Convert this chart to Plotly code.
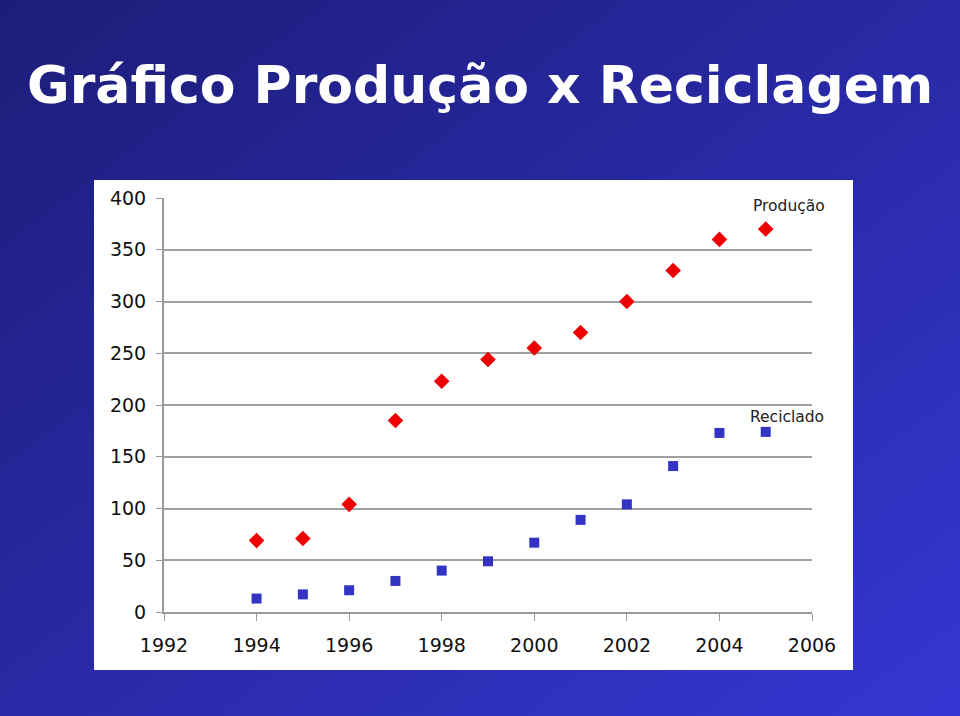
import base64
import plotly.graph_objects as go

# Data
anos = [1994, 1995, 1996, 1997, 1998, 1999, 2000, 2001, 2002, 2003, 2004, 2005]
producao = [69, 71, 104, 185, 223, 244, 255, 270, 300, 330, 360, 370]
reciclado = [13, 17, 21, 30, 40, 49, 67, 89, 104, 141, 173, 174]

y_ticks = [0, 50, 100, 150, 200, 250, 300, 350, 400]
x_ticks = [1992, 1994, 1996, 1998, 2000, 2002, 2004, 2006]

W, H = 960, 716

# background gradient as an inline svg image
svg = (
    '<svg xmlns="http://www.w3.org/2000/svg" width="960" height="716" preserveAspectRatio="none">'
    '<defs><linearGradient id="g" x1="0" y1="0" x2="1" y2="1">'
    '<stop offset="0" stop-color="#1c1d78"/>'
    '<stop offset="1" stop-color="#3536d2"/>'
    '</linearGradient></defs>'
    '<rect width="960" height="716" fill="url(#g)"/></svg>'
)
bg_src = "data:image/svg+xml;base64," + base64.b64encode(svg.encode()).decode()

font = "DejaVu Sans, sans-serif"

fig = go.Figure()

fig.add_trace(go.Scatter(
    x=anos, y=producao, mode="markers", name="Produção",
    marker=dict(symbol="diamond", size=12, color="#ee0000"),
))
fig.add_trace(go.Scatter(
    x=anos, y=reciclado, mode="markers", name="Reciclado",
    marker=dict(symbol="square", size=10, color="#3333c4"),
))

# series labels
fig.add_annotation(x=2005.5, y=392, xref="x", yref="y", text="Produção",
                   showarrow=False, font=dict(family=font, size=15.5, color="#222"))
fig.add_annotation(x=2005.45, y=188, xref="x", yref="y", text="Reciclado",
                   showarrow=False, font=dict(family=font, size=15.5, color="#222"))

# slide title
fig.add_annotation(x=0.5, y=1 - 85 / H, xref="paper", yref="paper",
                   xanchor="center", yanchor="middle",
                   text="<b>Gráfico Produção x Reciclagem</b>", showarrow=False,
                   font=dict(family=font, size=52, color="white"))

# white chart box
fig.add_shape(type="rect", xref="paper", yref="paper", layer="below",
              x0=94 / W, x1=853 / W, y0=1 - 670 / H, y1=1 - 180 / H,
              fillcolor="white", line=dict(width=0))

fig.update_layout(
    autosize=True,
    margin=dict(l=0, r=0, t=0, b=0, pad=0),
    showlegend=False,
    plot_bgcolor="white",
    paper_bgcolor="#2a2ba6",
    font=dict(family=font, color="#111"),
    images=[dict(source=bg_src, xref="paper", yref="paper", x=0, y=1,
                 sizex=1, sizey=1, sizing="stretch", layer="below")],
    xaxis=dict(
        domain=[164 / W, 812 / W], range=[1992, 2006], automargin=False,
        tickvals=x_ticks, ticks="outside", ticklen=7, tickcolor="#999",
        showgrid=False, showline=True, linecolor="#999", linewidth=2,
        tickfont=dict(size=19, color="#111"), zeroline=False,
        ticklabelstandoff=8,
    ),
    yaxis=dict(
        domain=[1 - 612 / H, 1 - 198 / H], range=[0, 400], automargin=False,
        tickvals=y_ticks, ticks="outside", ticklen=6, tickcolor="#999",
        showgrid=True, gridcolor="#a0a0a0", gridwidth=1.5,
        showline=True, linecolor="#999", linewidth=2,
        tickfont=dict(size=19, color="#111"), zeroline=False,
        ticklabelstandoff=6,
    ),
)

# let the figure fill the whole window
fill_page = (
    "var gd=document.getElementById('{plot_id}');"
    "document.documentElement.style.height='100%';"
    "document.body.style.height='100%';"
    "document.body.style.margin='0';"
    "document.body.style.overflow='hidden';"
    "gd.parentElement.style.height='100%';"
    "Plotly.Plots.resize(gd);"
)

fig.write_html(
    "out.html",
    config=dict(displayModeBar=False, responsive=True),
    default_width="100%",
    default_height="100%",
    post_script=fill_page,
)
